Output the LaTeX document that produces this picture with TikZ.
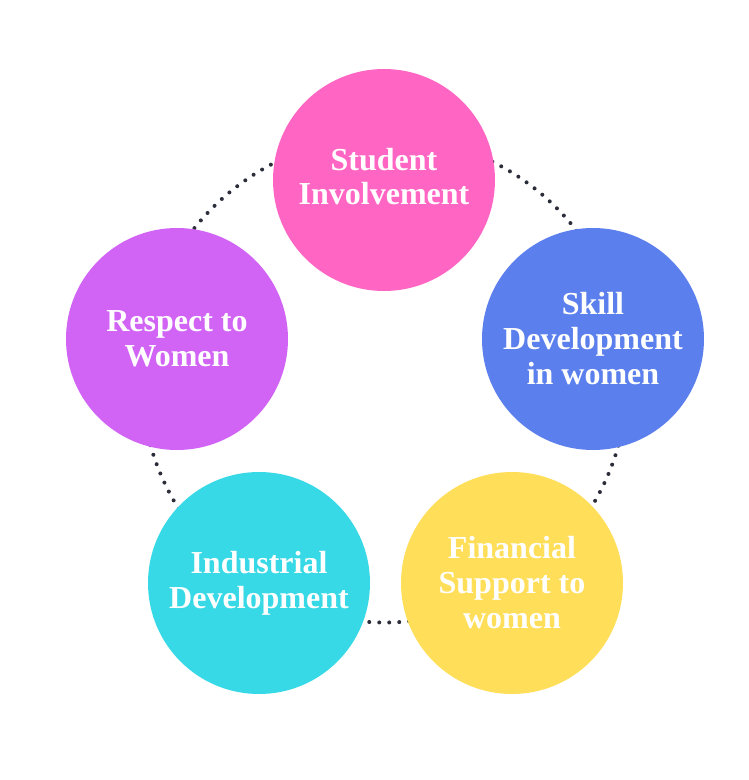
\documentclass[tikz,border=0pt]{standalone}
\usepackage{fontspec}
\setmainfont{Liberation Serif}
\definecolor{cpink}{HTML}{FF66C4}
\definecolor{cblue}{HTML}{5B7FEC}
\definecolor{cyellow}{HTML}{FFDE59}
\definecolor{ccyan}{HTML}{38D9E6}
\definecolor{cpurple}{HTML}{D164F5}
\definecolor{cdot}{HTML}{2B2D3A}
\tikzset{
  x=1pt, y=-1pt,
  bubble/.style={circle, minimum size=222pt, inner sep=0pt, text=white, align=center,
    font=\fontsize{32}{35}\selectfont\bfseries},
  ring/.style={draw=cdot, line width=4pt, line cap=round, dash pattern=on 0pt off 10pt}
}
\begin{document}
\begin{tikzpicture}
\useasboundingbox (0,0) rectangle (749,780);
\fill[white] (0,0) rectangle (749,780);
\coordinate (c) at (384.5,379.5);
\draw[ring] (c) circle (243pt);
\node[bubble, fill=cpink] (student) at (384,180) {\raisebox{7pt}{\begin{tabular}{@{}c@{}}Student\\[-1pt]Involvement\end{tabular}}};
\node[bubble, fill=cblue] (skill) at (593,339) {Skill\\Development\\in women};
\node[bubble, fill=cyellow] (finance) at (512,583) {Financial\\Support to\\women};
\node[bubble, fill=ccyan] (industry) at (259,583) {Industrial\\Development};
\node[bubble, fill=cpurple] (respect) at (177,339) {Respect to\\Women};
\end{tikzpicture}
\end{document}
